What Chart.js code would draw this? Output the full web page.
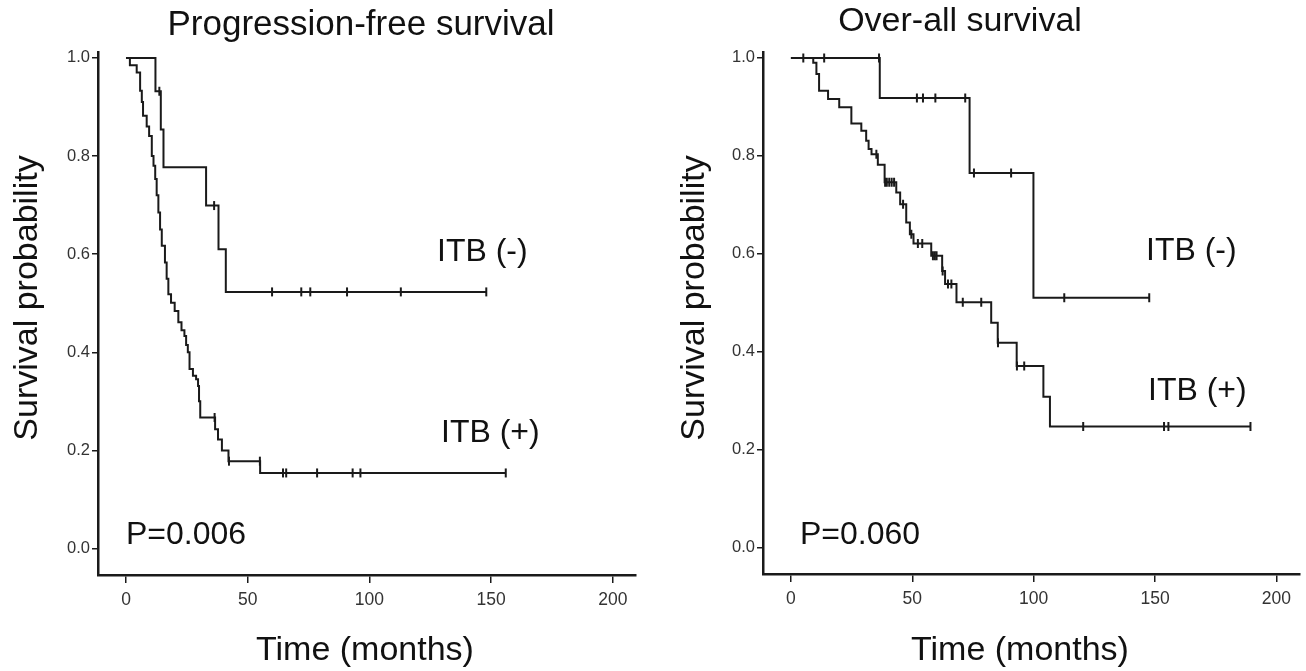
<!DOCTYPE html>
<html>
<head>
<meta charset="utf-8">
<title>ITB survival curves</title>
<script src="https://cdn.jsdelivr.net/npm/chart.js@4.4.1/dist/chart.umd.min.js"></script>
<style>
    html, body { margin: 0; padding: 0; background: #fff; }
    #wrap { position: relative; width: 1306px; height: 671px; }
    canvas { position: absolute; top: 0; }
    #pfs { left: 0; }
    #os { left: 653px; }
</style>
</head>
<body>
<div id="wrap">
    <canvas id="pfs" width="653" height="671"></canvas>
    <canvas id="os" width="653" height="671"></canvas>
</div>
<script>
// Tick labels
var xTicks = [0, 50, 100, 150, 200];
var yTicks = [0, 0.2, 0.4, 0.6, 0.8, 1.0];

// Progression-free survival, ITB (-)
var pfsNegTime = [0, 12.1, 14.3, 15.4, 32.9, 38.0, 41.0, 148];
var pfsNegSurv = [1, 0.932, 0.854, 0.777, 0.699, 0.610, 0.523, 0.523];
var pfsNegCens = [13.7, 36.2, 60, 72, 75.7, 90.8, 112.9, 148];

// Progression-free survival, ITB (+)
var pfsPosTime = [0, 1.6, 4.4, 5.8, 6.5, 7.0, 8.5, 9.5, 10.6, 11.3, 12.0, 12.6, 13.3, 14.0, 14.7, 16.0, 16.7, 17.4,
    18.5, 20.0, 21.5, 22.8, 24.0, 24.7, 25.4, 26.1, 27.5, 28.8, 29.6, 30.0, 30.5, 36.6, 37.8, 39.4, 42.1, 55.1, 156];
var pfsPosSurv = [1, 0.985, 0.970, 0.933, 0.91, 0.882, 0.86, 0.841, 0.80, 0.78, 0.753, 0.72, 0.685, 0.65, 0.617, 0.583, 0.55, 0.518,
    0.501, 0.484, 0.461, 0.445, 0.433, 0.415, 0.40, 0.366, 0.352, 0.345, 0.331, 0.30, 0.267, 0.243, 0.222, 0.200, 0.178, 0.154, 0.154];
var pfsPosCens = [36.4, 42.3, 55.0, 64.5, 65.8, 78.5, 93.1, 96.3, 156];

// Over-all survival, ITB (-)
var osNegTime = [0, 36.6, 73.6, 99.9, 147.6];
var osNegSurv = [1, 0.918, 0.765, 0.510, 0.510];
var osNegCens = [5.1, 13.7, 36.3, 51.9, 54.4, 59.5, 71.8, 75.4, 90.7, 112.6, 147.6];

// Over-all survival, ITB (+)
var osPosTime = [0, 9.2, 10.5, 11.6, 15.3, 19.9, 24.9, 29.0, 31.0, 32.0, 33.2, 35.8, 38.6, 43.4, 45.0, 47.5, 49.0,
    50.5, 57.8, 62.3, 63.5, 68.2, 82.5, 85.2, 93.0, 104.0, 106.7, 189.3];
var osPosSurv = [1, 0.99, 0.967, 0.933, 0.916, 0.899, 0.866, 0.851, 0.831, 0.814, 0.803, 0.782, 0.746, 0.725, 0.701, 0.664, 0.640,
    0.621, 0.596, 0.565, 0.538, 0.501, 0.459, 0.418, 0.371, 0.308, 0.247, 0.247];
var osPosCens = [35.2, 38.8, 39.5, 40.5, 41.5, 42.5, 46.2, 49.6, 52.3, 54.1, 58.5, 59.3, 60.0, 62.5, 64.7, 66.1,
    70.8, 78.4, 85.3, 93.1, 96.1, 120.4, 153.7, 155.5, 189.3];

var FONT = '"Liberation Sans", Arial, sans-serif';
var INK = '#1a1a1a';

// turn two arrays into {x, y} points
function toPoints(times, surv) {
    return times.map(function(t, i) { return { x: t, y: surv[i] }; });
}

// censor marks sit on the curve: take the level in force at that time
function censorPoints(cens, times, surv) {
    return cens.map(function(c) {
        var level = surv[0];
        for (var i = 0; i < times.length; i++) {
            if (times[i] <= c) level = surv[i];
        }
        return { x: c, y: level };
    });
}

function curveSets(times, surv, cens) {
    return [{
        type: 'line',
        data: toPoints(times, surv),
        stepped: true,
        borderColor: INK,
        borderWidth: 2,
        pointRadius: 0,
        fill: false
    }, {
        type: 'scatter',
        data: censorPoints(cens, times, surv),
        pointStyle: 'line',
        rotation: 90,
        pointRadius: 4.5,
        pointBorderWidth: 2,
        pointBorderColor: INK,
        pointBackgroundColor: INK
    }];
}

// plain text drawn on top of each chart
var textPlugin = {
    id: 'texts',
    afterDraw: function(chart) {
        var ctx = chart.ctx;
        var items = chart.options.plugins.texts.items;
        items.forEach(function(it) {
            ctx.save();
            ctx.fillStyle = '#111';
            ctx.font = it.size + 'px ' + FONT;
            ctx.textAlign = it.align || 'left';
            ctx.textBaseline = 'alphabetic';
            ctx.translate(it.x, it.y);
            if (it.rotate) ctx.rotate(-Math.PI / 2);
            ctx.fillText(it.text, 0, 0);
            ctx.restore();
        });
    }
};

function makeChart(id, datasets, axisLeft, axisBottom, padRight, texts) {
    var canvas = document.getElementById(id);
    return new Chart(canvas.getContext('2d'), {
        type: 'scatter',
        data: { datasets: datasets },
        options: {
            responsive: false,
            animation: false,
            devicePixelRatio: 1,
            layout: { padding: { left: 0, top: 52, right: padRight, bottom: 0 } },
            plugins: {
                legend: { display: false },
                tooltip: { enabled: false },
                texts: { items: texts }
            },
            scales: {
                x: {
                    type: 'linear',
                    min: -11.5,
                    max: 209.5,
                    border: { display: true, color: INK, width: 2.5 },
                    grid: { drawOnChartArea: false, drawTicks: true, tickLength: 8, color: INK, lineWidth: 1.5 },
                    ticks: { color: '#333', padding: 7, font: { family: FONT, size: 17.5 } },
                    afterBuildTicks: function(scale) {
                        scale.ticks = xTicks.map(function(v) { return { value: v }; });
                    },
                    afterFit: function(scale) { scale.height = 671 - axisBottom; }
                },
                y: {
                    type: 'linear',
                    min: -0.054,
                    max: 1.012,
                    border: { display: true, color: INK, width: 2.5 },
                    grid: { drawOnChartArea: false, drawTicks: true, tickLength: 6, color: INK, lineWidth: 1.5 },
                    ticks: {
                        color: '#333',
                        padding: 2,
                        font: { family: FONT, size: 16.5 },
                        callback: function(v) { return Number(v).toFixed(1); }
                    },
                    afterBuildTicks: function(scale) {
                        scale.ticks = yTicks.map(function(v) { return { value: v }; });
                    },
                    afterFit: function(scale) { scale.width = axisLeft; }
                }
            }
        },
        plugins: [textPlugin]
    });
}

makeChart('pfs',
    curveSets(pfsNegTime, pfsNegSurv, pfsNegCens).concat(curveSets(pfsPosTime, pfsPosSurv, pfsPosCens)),
    98, 575, 17,
    [
        { text: 'Progression-free survival', x: 361, y: 35, size: 35, align: 'center' },
        { text: 'Survival probability', x: 37, y: 298, size: 34, align: 'center', rotate: true },
        { text: 'Time (months)', x: 365, y: 660, size: 34, align: 'center' },
        { text: 'ITB (-)', x: 437, y: 261, size: 32 },
        { text: 'ITB (+)', x: 441, y: 442, size: 32 },
        { text: 'P=0.006', x: 126, y: 544, size: 32 }
    ]);

makeChart('os',
    curveSets(osNegTime, osNegSurv, osNegCens).concat(curveSets(osPosTime, osPosSurv, osPosCens)),
    110, 574, 5,
    [
        { text: 'Over-all survival', x: 307, y: 31, size: 34, align: 'center' },
        { text: 'Survival probability', x: 51, y: 298, size: 34, align: 'center', rotate: true },
        { text: 'Time (months)', x: 367, y: 660, size: 34, align: 'center' },
        { text: 'ITB (-)', x: 493, y: 260, size: 32 },
        { text: 'ITB (+)', x: 495, y: 400, size: 32 },
        { text: 'P=0.060', x: 147, y: 544, size: 32 }
    ]);
</script>
</body>
</html>
